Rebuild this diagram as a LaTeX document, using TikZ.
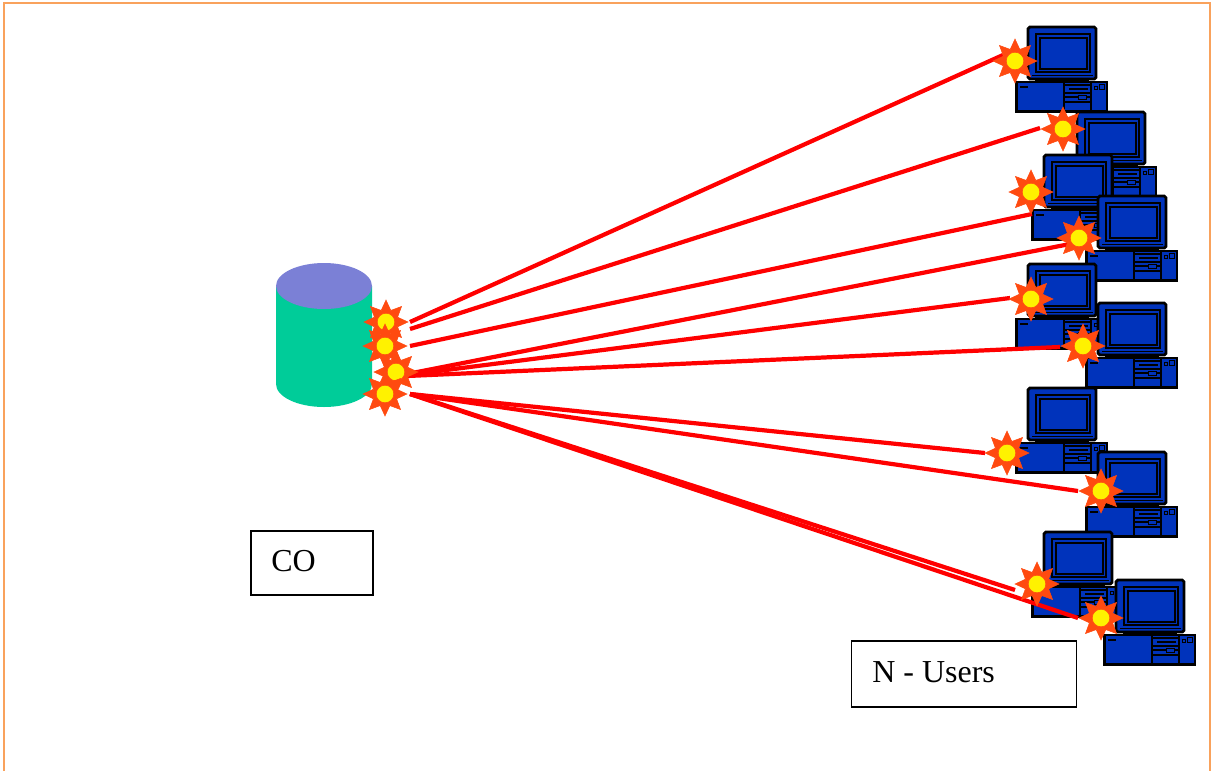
\documentclass[tikz,border=0pt]{standalone}
\usepackage{fontspec}
\setmainfont{Liberation Serif}
\usetikzlibrary{shapes.geometric}
\definecolor{frameorange}{HTML}{F9A25C}
\definecolor{dbgreen}{HTML}{00CC99}
\definecolor{dbtop}{HTML}{7B80D6}
\definecolor{pcblue}{HTML}{0033BB}
\definecolor{burstred}{HTML}{FF4A10}
\tikzset{
  link/.style={red,line width=2.4pt},
  burst/.style={star,star points=8,star point ratio=1.75,minimum size=25pt,inner sep=0pt,fill=burstred,draw=burstred,line width=0.3pt},
  burstcore/.style={circle,minimum size=10pt,inner sep=0pt,fill=yellow,draw=burstred,line width=0.3pt},
  label box/.style={draw,line width=1pt,inner sep=0pt},
  label text/.style={anchor=west,font=\fontsize{18.2}{20}\selectfont,inner sep=0pt},
  pcline/.style={black,line width=1.6pt},
  thinline/.style={black,line width=0.8pt},
  computer/.pic={
    % monitor
    \draw[pcline,fill=pcblue,rounded corners=1pt] (0,0) rectangle (68,52);
    \draw[pcline] (8,45)--(8,7)--(62,7)--(62,45)--cycle;
    \draw[pcline] (12,42)--(12,11)--(59,11)--(59,42)--cycle;
    \draw[thinline] (4,48.5)--(65,48.5);
    % case
    \draw[pcline,fill=black] (8,52) rectangle (60,54);
    \draw[pcline,fill=pcblue] (-11.5,55) rectangle (79,84.5);
    \draw[thinline] (36,55)--(36,85);
    \draw[thinline] (63,55)--(63,85);
    \draw[thinline] (36,58)--(63,58);
    \draw[thinline] (36,66)--(63,66);
    \draw[thinline] (36,70)--(63,70);
    \draw[thinline] (36,75)--(63,75);
    \draw[thinline,line width=1.1pt] (41,62)--(60,62);
    \draw[thinline,line width=0.9pt] (-8,60)--(0,60);
    \draw[thinline,line width=0.5pt,fill=pcblue] (50,68) rectangle (58,72);
    \draw[thinline,line width=0.5pt] (66,59) rectangle (69,62);
    \draw[thinline,line width=0.5pt] (71,57) rectangle (76,62);
  }
}
\begin{document}
\begin{tikzpicture}[x=0.02cm,y=-0.02cm]
 \useasboundingbox (0,0) rectangle (1212,771);
 \coordinate (frameA) at (4,771);
 \coordinate (frameB) at (4,3);
 \coordinate (frameC) at (1210,3);
 \coordinate (frameD) at (1210,771);
 \draw[frameorange,line width=1.6pt] (frameA)--(frameB)--(frameC)--(frameD);
 % database
 \fill[dbgreen] (276,286) -- (276,384) arc[start angle=180,end angle=360,x radius=48,y radius=-23] -- (372,286) -- cycle;
 \fill[dbtop] (324,286) ellipse[x radius=48,y radius=23];
 % users
 \foreach \px/\py in {1028/27,1077/112,1044/155,1098/196,1028/264,1098/303,1028/388,1098/452,1044/532,1116/580}
   \pic at (\px,\py) {computer};
 % link ends
 \coordinate (s1) at (410,322);  \coordinate (e1) at (1003,55);
 \coordinate (s2) at (410,329);  \coordinate (e2) at (1040,128);
 \coordinate (s3) at (410,346);  \coordinate (e3) at (1032,214);
 \coordinate (s4) at (407,374);  \coordinate (e4) at (1075,243);
 \coordinate (s5) at (407,375);  \coordinate (e5) at (1010,298);
 \coordinate (s6) at (407,376);  \coordinate (e6) at (1060,347);
 \coordinate (s7) at (410,394);  \coordinate (e7) at (985,453);
 \coordinate (s8) at (410,394);  \coordinate (e8) at (1078,491);
 \coordinate (s9) at (410,394);  \coordinate (e9) at (1015,590);
 \coordinate (s10) at (410,394); \coordinate (e10) at (1078,618);
 \foreach \n in {1,...,10}
   \draw[link] (s\n)--(e\n);
 % bursts
 \foreach \n/\px/\py in {co1/386/322,co2/385/346,co3/396/372,co4/385/394,u1/1015/61,u2/1063/129,u3/1031/192,u4/1079/238,u5/1031/299,u6/1083/346,u7/1007/453,u8/1101/491,u9/1037/584,u10/1101/618}{
   \node[burst] (\n) at (\px,\py) {};
   \node[burstcore] (\n core) at (\n) {};
 }
 % labels
 \node[label box,minimum width=69.2pt,minimum height=36.3pt] (co) at (312,563) {};
 \node[label text] (cotext) at (271,561) {CO};
 \node[label box,minimum width=128pt,minimum height=37.4pt] (users) at (964,674) {};
 \node[label text] (userstext) at (872,672) {N - Users};
\end{tikzpicture}
\end{document}
